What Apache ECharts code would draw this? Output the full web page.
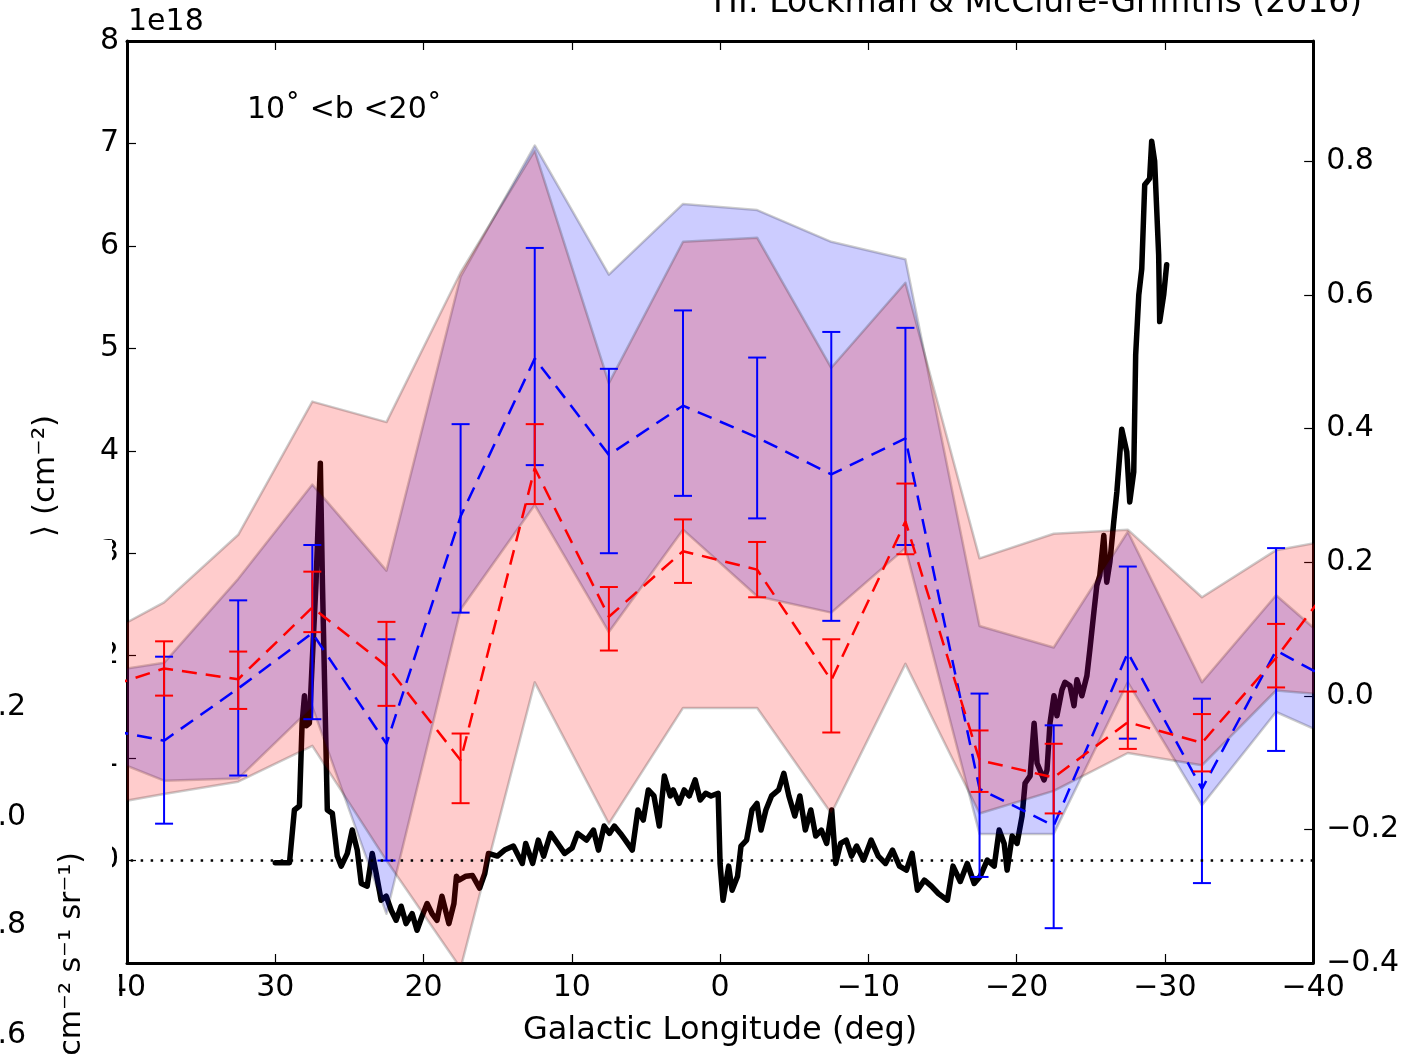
<!DOCTYPE html>
<html>
<head>
<meta charset="utf-8">
<script src="https://cdn.jsdelivr.net/npm/echarts@6/dist/echarts.min.js"></script>
<style>
html,body{margin:0;padding:0;background:#fff;}
#chart{width:1402px;height:1054px;}
</style>
</head>
<body>
<div id="chart"></div>
<script>
// ---------------- DATA ----------------
const lon = [42.5, 37.5, 32.5, 27.5, 22.5, 17.5, 12.5, 7.5, 2.5, -2.5, -7.5, -12.5, -17.5, -22.5, -27.5, -32.5, -37.5, -42.5];

// mean values (units of 1e18 cm^-2)
const blueMean = [1.31, 1.17, 1.68, 2.22, 1.14, 3.36, 4.90, 3.96, 4.44, 4.13, 3.77, 4.12, 0.70, 0.34, 2.03, 0.70, 2.05, 1.66];
const redMean  = [1.64, 1.875, 1.77, 2.47, 1.90, 0.98, 3.83, 2.38, 3.02, 2.84, 1.76, 3.31, 0.98, 0.81, 1.35, 1.15, 1.98, 2.94];

// error bars
const blueErrLo = [null, 0.36, 0.83, 1.38, 0.00, 2.42, 3.86, 3.00, 3.56, 3.34, 2.34, 3.08, -0.16, -0.66, 1.19, -0.22, 1.07, null];
const blueErrHi = [null, 1.99, 2.54, 3.08, 2.16, 4.26, 5.98, 4.80, 5.37, 4.91, 5.16, 5.20, 1.63, 1.32, 2.87, 1.58, 3.05, null];
const redErrLo  = [null, 1.61, 1.48, 2.23, 1.51, 0.56, 3.48, 2.05, 2.71, 2.57, 1.25, 2.99, 0.67, 0.46, 1.09, 0.87, 1.69, null];
const redErrHi  = [null, 2.14, 2.04, 2.82, 2.33, 1.24, 4.26, 2.67, 3.33, 3.11, 2.16, 3.68, 1.27, 1.14, 1.65, 1.43, 2.31, null];

// shaded bands
const blueBandHi = [1.82, 1.93, 2.75, 3.67, 2.83, 5.70, 6.98, 5.72, 6.41, 6.35, 6.04, 5.87, 2.29, 2.08, 3.21, 1.74, 2.59, 1.96];
const blueBandLo = [1.07, 0.78, 0.80, 1.50, -0.52, 2.45, 3.47, 2.23, 3.23, 2.58, 2.42, 3.05, 0.26, 0.26, 1.74, 0.54, 1.45, 1.13];
const redBandHi  = [2.13, 2.52, 3.18, 4.48, 4.28, 5.74, 6.93, 4.66, 6.04, 6.08, 4.81, 5.64, 2.95, 3.19, 3.23, 2.57, 3.03, 3.16];
const redBandLo  = [0.52, 0.65, 0.77, 1.12, 0.00, -1.05, 1.74, 0.36, 1.49, 1.49, 0.46, 1.92, 0.46, 0.68, 1.05, 0.93, 1.66, 1.60];

// black profile (right axis)
const specLon = [
 30.0, 29.04, 28.71, 28.37, 28.19, 28.03, 27.90, 27.70, 27.52, 27.25,
 26.96, 26.82, 26.49, 26.15, 25.82, 25.55, 25.14, 24.81, 24.47, 24.20,
 23.80, 23.46, 23.19, 22.86, 22.52, 22.18, 21.85, 21.51, 21.18, 20.77,
 20.44, 20.10, 19.76, 19.43, 19.09, 18.76, 18.29, 17.95, 17.78, 17.61,
 17.14, 16.70, 16.22, 15.87, 15.62, 15.02, 14.54, 13.94, 13.34, 13.11,
 12.64, 12.26, 11.90, 11.43, 10.96, 10.49, 9.98, 9.61, 9.01, 8.54,
 8.20, 7.82, 7.46, 7.13, 6.72, 6.39, 5.92, 5.54, 5.18, 4.84,
 4.46, 4.10, 3.76, 3.36, 3.16, 2.76, 2.42, 2.08, 1.68, 1.34,
 0.97, 0.61, 0.13, 0.0, -0.20, -0.58, -0.81, -1.18, -1.41, -1.79,
 -2.15, -2.49, -2.76, -3.09, -3.47, -3.95, -4.30, -4.64, -5.04, -5.38,
 -5.75, -6.12, -6.45, -6.83, -7.19, -7.53, -7.80, -8.13, -8.51, -8.87,
 -9.21, -9.68, -10.19, -10.67, -11.16, -11.63, -12.10, -12.57, -12.95, -13.31,
 -13.78, -14.25, -14.72, -15.33, -15.71, -16.20, -16.67, -17.14, -17.55, -18.02,
 -18.49, -18.82, -19.16, -19.36, -19.70, -20.03, -20.37, -20.57, -20.91, -21.18,
 -21.38, -21.85, -22.05, -22.25, -22.52, -22.72, -23.06, -23.26, -23.60, -23.87,
 -24.07, -24.40, -24.74, -24.94, -25.21, -25.41, -25.61, -25.88, -26.08, -26.29,
 -26.55, -26.76, -27.09, -27.43, -27.63, -27.90, -28.03, -28.24, -28.44, -28.64,
 -28.97, -29.11, -29.31, -29.58, -29.65, -29.92, -30.12
];
const specVal = [
 -0.25, -0.25, -0.171, -0.165, -0.041, 0.0, -0.045, -0.041, 0.045, 0.17,
 0.348, 0.17, -0.171, -0.176, -0.24, -0.255, -0.236, -0.201, -0.231, -0.281,
 -0.285, -0.236, -0.266, -0.306, -0.30, -0.321, -0.336, -0.315, -0.341, -0.326,
 -0.351, -0.33, -0.311, -0.326, -0.336, -0.30, -0.341, -0.311, -0.27, -0.276,
 -0.27, -0.269, -0.288, -0.266, -0.236, -0.24, -0.231, -0.225, -0.251, -0.221,
 -0.251, -0.216, -0.24, -0.206, -0.221, -0.236, -0.228, -0.206, -0.216, -0.201,
 -0.231, -0.195, -0.206, -0.195, -0.206, -0.216, -0.231, -0.171, -0.186, -0.141,
 -0.15, -0.195, -0.12, -0.15, -0.141, -0.161, -0.141, -0.15, -0.126, -0.156,
 -0.146, -0.15, -0.146, -0.251, -0.306, -0.255, -0.291, -0.27, -0.225, -0.216,
 -0.171, -0.161, -0.201, -0.171, -0.15, -0.141, -0.116, -0.15, -0.18, -0.15,
 -0.201, -0.171, -0.21, -0.201, -0.221, -0.171, -0.251, -0.221, -0.216, -0.24,
 -0.225, -0.246, -0.216, -0.24, -0.251, -0.231, -0.255, -0.261, -0.236, -0.291,
 -0.276, -0.285, -0.296, -0.306, -0.255, -0.278, -0.251, -0.281, -0.27, -0.246,
 -0.255, -0.201, -0.221, -0.261, -0.21, -0.221, -0.18, -0.131, -0.12, -0.041,
 -0.101, -0.126, -0.111, -0.041, 0.0, -0.03, 0.009, 0.02, 0.015, -0.015,
 0.024, 0.0, 0.03, 0.069, 0.125, 0.165, 0.18, 0.24, 0.17, 0.20,
 0.26, 0.305, 0.399, 0.365, 0.29, 0.335, 0.51, 0.60, 0.639, 0.765,
 0.774, 0.83, 0.80, 0.66, 0.56, 0.60, 0.645
];

const baseline = 0;  // dotted reference line (left axis)

// ---------------- CHART ----------------
const FONT = 'DejaVu Sans';
const minus = v => (v < 0 ? '\u2212' + String(-v) : String(v));

const chart = echarts.init(document.getElementById('chart'), null, {renderer: 'canvas'});

function bandRender(lo, hi, fill) {
  return function (params, api) {
    const pts = [];
    for (let i = 0; i < lon.length; i++) pts.push(api.coord([lon[i], hi[i]]));
    for (let i = lon.length - 1; i >= 0; i--) pts.push(api.coord([lon[i], lo[i]]));
    return {
      type: 'polygon',
      shape: {points: pts},
      style: {fill: fill, stroke: 'rgba(0,0,0,0.2)', lineWidth: 2.5, lineJoin: 'round'}
    };
  };
}

function errRender(color) {
  return function (params, api) {
    const x = api.value(0);
    const p1 = api.coord([x, api.value(1)]);
    const p2 = api.coord([x, api.value(2)]);
    const w = 9;
    const st = {stroke: color, lineWidth: 2};
    return {
      type: 'group',
      children: [
        {type: 'line', shape: {x1: p1[0], y1: p1[1], x2: p2[0], y2: p2[1]}, style: st},
        {type: 'line', shape: {x1: p1[0] - w, y1: p1[1], x2: p1[0] + w, y2: p1[1]}, style: st},
        {type: 'line', shape: {x1: p2[0] - w, y1: p2[1], x2: p2[0] + w, y2: p2[1]}, style: st}
      ]
    };
  };
}

const errData = (lo, hi) => lon.map((l, i) => (lo[i] == null ? null : [l, lo[i], hi[i]])).filter(d => d);

const xCommon = {
  type: 'value', min: -40, max: 40, interval: 10, inverse: true,
  splitLine: {show: false},
  axisLine: {show: true, onZero: false, lineStyle: {color: '#000', width: 3}},
  axisTick: {show: true, inside: true, length: 9, lineStyle: {color: '#000', width: 1.2}}
};

const option = {
  animation: false,
  backgroundColor: '#ffffff',
  textStyle: {fontFamily: FONT},
  grid: {left: 127, right: 85, top: 41, bottom: 91, containLabel: false},
  xAxis: [
    Object.assign({}, xCommon, {
      position: 'bottom',
      axisLabel: {fontSize: 30, color: '#000', margin: 10, fontFamily: FONT, formatter: v => minus(v)},
      name: 'Galactic Longitude (deg)', nameLocation: 'middle', nameGap: 52,
      nameTextStyle: {fontSize: 32, color: '#000', fontFamily: FONT}
    }),
    Object.assign({}, xCommon, {position: 'top', axisLabel: {show: false}})
  ],
  yAxis: [
    {
      type: 'value', position: 'left', min: -1, max: 8, interval: 1,
      splitLine: {show: false},
      axisLine: {show: true, onZero: false, lineStyle: {color: '#000', width: 3}},
      axisTick: {show: true, inside: true, length: 9, lineStyle: {color: '#000', width: 1.2}},
      axisLabel: {fontSize: 30, color: '#000', margin: 8, fontFamily: FONT,
                  formatter: v => (v < 0 ? '' : String(v))}
    },
    {
      type: 'value', position: 'right', min: -0.4, max: 0.98, interval: 0.2,
      splitLine: {show: false},
      axisLine: {show: true, onZero: false, lineStyle: {color: '#000', width: 3}},
      axisTick: {show: true, inside: true, length: 9, lineStyle: {color: '#000', width: 1.2}},
      axisLabel: {fontSize: 30, color: '#000', margin: 13, fontFamily: FONT, showMaxLabel: false,
                  formatter: v => { const s = (Math.abs(v) < 1e-9 ? 0 : v).toFixed(1); return s.replace('-', '\u2212'); }}
    }
  ],
  series: [
    { // black profile, beneath the shaded bands
      type: 'line', name: 'profile', xAxisIndex: 0, yAxisIndex: 1, z: 1,
      data: specLon.map((l, i) => [l, specVal[i]]),
      showSymbol: false, symbol: 'none', clip: true,
      lineStyle: {color: '#000', width: 5.5, cap: 'round', join: 'round'}
    },
    {
      type: 'custom', name: 'blueBand', z: 2, clip: true,
      data: [[lon[0], blueBandLo[0], blueBandHi[0]]],
      renderItem: bandRender(blueBandLo, blueBandHi, 'rgba(0,0,255,0.2)')
    },
    {
      type: 'custom', name: 'redBand', z: 2, clip: true,
      data: [[lon[0], redBandLo[0], redBandHi[0]]],
      renderItem: bandRender(redBandLo, redBandHi, 'rgba(255,0,0,0.2)')
    },
    {
      type: 'line', name: 'blueMean', z: 3, clip: true,
      data: lon.map((l, i) => [l, blueMean[i]]),
      showSymbol: false, symbol: 'none',
      lineStyle: {color: '#0000ff', width: 2.5, type: [15, 9]},
      markLine: {
        silent: true, symbol: 'none', label: {show: false},
        lineStyle: {color: '#000', width: 2.5, type: [2.5, 7.5]},
        data: [{yAxis: baseline}]
      }
    },
    {
      type: 'custom', name: 'blueErr', z: 3, clip: true,
      data: errData(blueErrLo, blueErrHi),
      renderItem: errRender('#0000ff')
    },
    {
      type: 'line', name: 'redMean', z: 4, clip: true,
      data: lon.map((l, i) => [l, redMean[i]]),
      showSymbol: false, symbol: 'none',
      lineStyle: {color: '#ff0000', width: 2.5, type: [15, 9]}
    },
    {
      type: 'custom', name: 'redErr', z: 4, clip: true,
      data: errData(redErrLo, redErrHi),
      renderItem: errRender('#ff0000')
    }
  ],
  graphic: [
    {type: 'text', z: 100, x: 1362, y: 3,
     style: {text: 'HI: Lockman & McClure-Griffiths (2016)', font: '33px "DejaVu Sans"', fill: '#000', align: 'right', verticalAlign: 'middle'}},
    {type: 'text', z: 100, x: 128, y: 22,
     style: {text: '1e18', font: '30px "DejaVu Sans"', fill: '#000', align: 'left', verticalAlign: 'middle'}},
    {type: 'text', z: 100, x: 247, y: 110,
     style: {text: '10\u02DA <b <20\u02DA', font: '30px "DejaVu Sans"', fill: '#000', align: 'left', verticalAlign: 'middle'}},
    {type: 'text', z: 100, x: 46, y: 537, rotation: Math.PI / 2,
     style: {text: '\u27E9 (cm\u207B\u00B2)', font: '31px "DejaVu Sans"', fill: '#000', align: 'left', verticalAlign: 'middle'}},
    // cover from an overlapping panel
    {type: 'rect', z: 150, shape: {x: 0, y: 540, width: 112, height: 400}, style: {fill: '#fff'}},
    {type: 'rect', z: 150, shape: {x: 0, y: 940, width: 119, height: 114}, style: {fill: '#fff'}},
    {type: 'text', z: 160, x: 26, y: 707, style: {text: '1.2', font: '30px "DejaVu Sans"', fill: '#000', align: 'right', verticalAlign: 'middle'}},
    {type: 'text', z: 160, x: 26, y: 817, style: {text: '1.0', font: '30px "DejaVu Sans"', fill: '#000', align: 'right', verticalAlign: 'middle'}},
    {type: 'text', z: 160, x: 26, y: 925, style: {text: '0.8', font: '30px "DejaVu Sans"', fill: '#000', align: 'right', verticalAlign: 'middle'}},
    {type: 'text', z: 160, x: 26, y: 1035, style: {text: '0.6', font: '30px "DejaVu Sans"', fill: '#000', align: 'right', verticalAlign: 'middle'}},
    {type: 'text', z: 160, x: 72, y: 852, rotation: Math.PI / 2,
     style: {text: 'cm\u207B\u00B2 s\u207B\u00B9 sr\u207B\u00B9)', font: '30px "DejaVu Sans"', fill: '#000', align: 'right', verticalAlign: 'middle'}}
  ]
};

chart.setOption(option);
</script>
</body>
</html>
